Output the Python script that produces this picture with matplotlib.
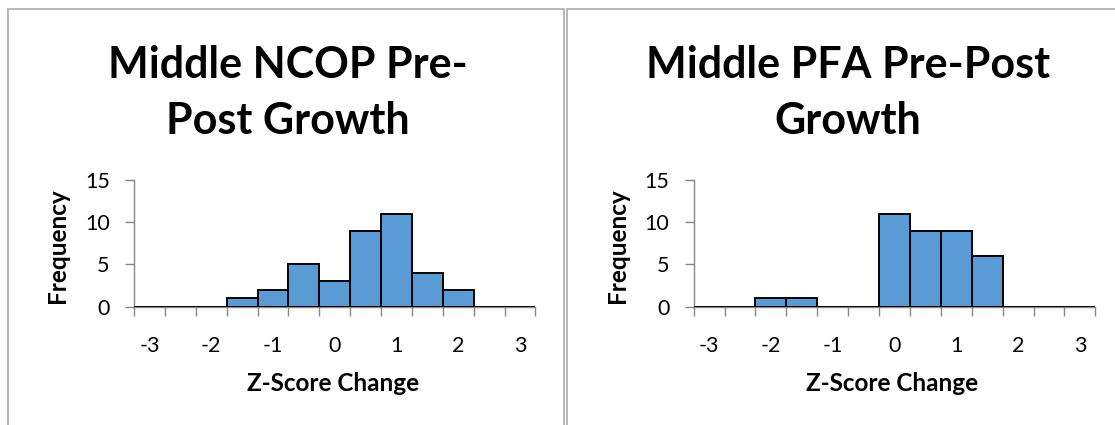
import numpy as np
import matplotlib
matplotlib.use("Agg")
import matplotlib.pyplot as plt
from matplotlib.patches import Rectangle

# --- Data ---
BINS = [-3, -2.5, -2, -1.5, -1, -0.5, 0, 0.5, 1, 1.5, 2, 2.5, 3]
NCOP_COUNTS = [0, 0, 0, 1, 2, 5, 3, 9, 11, 4, 2, 0, 0]
PFA_COUNTS = [0, 0, 1, 1, 0, 0, 11, 9, 9, 6, 0, 0, 0]
TITLES = ["Middle NCOP Pre-\nPost Growth", "Middle PFA Pre-Post\nGrowth"]
Y_TICKS = [0, 5, 10, 15]

# --- Layout (pixels) ---
W, H = 1115, 425
AX_TOP, AX_BOTTOM = 180, 306.7

# --- Style ---
BAR_COLOR = "#5B9BD5"
AXIS_COLOR = "#868686"
FRAME_COLOR = "#ABABAB"
FONT = "Lato"


def fx(px):
    return px / W


def fy(py):
    return 1 - py / H


def draw_panel(fig, left, right, counts, title, frame_left, frame_right):
    fig.patches.append(Rectangle((fx(frame_left), fy(440)), fx(frame_right - frame_left),
                                 fy(9) - fy(440), transform=fig.transFigure,
                                 fill=False, edgecolor=FRAME_COLOR, linewidth=1.2))

    ax = fig.add_axes([fx(left), fy(AX_BOTTOM), fx(right - left), fy(AX_TOP) - fy(AX_BOTTOM)])
    x = np.arange(len(BINS))
    ax.bar(x, counts, width=1.0, color=BAR_COLOR, edgecolor="black", linewidth=1.4, zorder=3)

    ax.set_xlim(-0.5, len(BINS) - 0.5)
    ax.set_ylim(0, 15)
    for side in ["top", "right"]:
        ax.spines[side].set_visible(False)
    for side in ["left", "bottom"]:
        ax.spines[side].set_color(AXIS_COLOR)
        ax.spines[side].set_linewidth(1.0)

    # ticks at category boundaries, labels on whole numbers only
    ax.set_xticks(np.arange(len(BINS) + 1) - 0.5)
    ax.set_xticklabels([])
    ax.set_xticks([i for i, b in enumerate(BINS) if float(b).is_integer()], minor=True)
    ax.set_xticklabels([str(int(b)) for b in BINS if float(b).is_integer()], minor=True)
    ax.tick_params(axis="x", which="major", direction="out", length=6.5, color=AXIS_COLOR, width=1.0)
    ax.tick_params(axis="x", which="minor", length=0, pad=21, labelsize=15.5)
    ax.set_yticks(Y_TICKS)
    ax.tick_params(axis="y", direction="out", length=6.5, color=AXIS_COLOR, width=1.0,
                   labelsize=15.5, pad=11)
    for lab in ax.get_xticklabels(minor=True) + ax.get_yticklabels():
        lab.set_fontfamily(FONT)

    w_px = right - left
    h_px = AX_BOTTOM - AX_TOP
    ax.set_xlabel("Z-Score Change", fontsize=17.5, fontweight="bold", family=FONT)
    ax.xaxis.set_label_coords(0.495, (AX_BOTTOM - 372) / h_px)
    ax.set_ylabel("Frequency", fontsize=17.5, fontweight="bold", family=FONT)
    ax.yaxis.set_label_coords((69 - 134) / w_px, (AX_BOTTOM - 246) / h_px)

    fig.text(fx((frame_left + frame_right) / 2 + 2), fy(45), title, ha="center", va="top",
             fontsize=31, fontweight="bold", family=FONT, linespacing=1.48)
    return ax


def main():
    fig = plt.figure(figsize=(W / 100, H / 100), dpi=100)
    fig.patch.set_facecolor("white")
    draw_panel(fig, 134, 535.4, NCOP_COUNTS, TITLES[0], 8, 564)
    draw_panel(fig, 693.6, 1095.4, PFA_COUNTS, TITLES[1], 567, 1125)
    fig.savefig("out.png", dpi=100)


if __name__ == "__main__":
    main()
